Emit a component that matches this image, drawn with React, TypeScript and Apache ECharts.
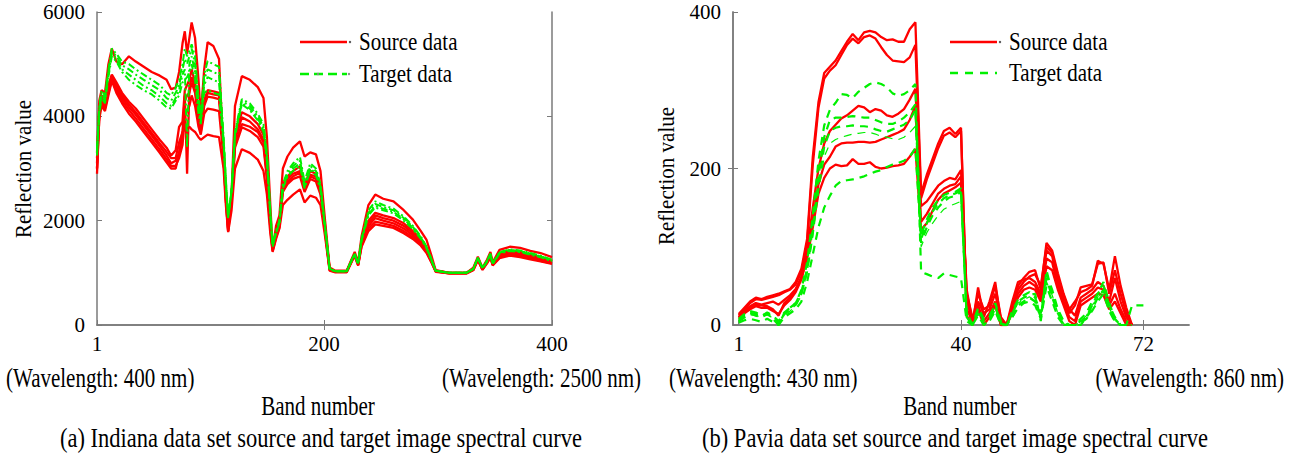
import React, { useEffect, useRef } from "react";
import * as echarts from "echarts";

// ---------- (a) Indiana data set ----------
const LEFT_BANDS = [1, 3, 5, 8, 11, 14, 18, 23, 29, 35, 42, 49, 56, 62, 66, 70, 73, 76, 78, 80, 82, 84, 87, 90, 92, 95, 98, 103, 108, 112, 114,
  116, 119, 122, 128, 135, 142, 147, 150, 153, 155, 158, 161, 164, 168, 173, 179, 183, 188, 193, 197, 201, 205, 210, 220, 225, 227, 230, 233, 239, 245, 252, 261, 270, 278, 285, 290, 294, 298, 310, 325, 331, 335, 339, 343, 346, 348, 354, 363, 372, 381, 390, 400];

const LEFT_SOURCE_1 = [3300, 4300, 4500, 4450, 5000, 5300, 5050, 5000, 5150, 5050, 4950, 4850, 4780, 4700, 4520, 4550, 4850, 5400, 5630, 5200, 5500, 5800, 5500, 4700, 4000, 4900, 5420, 5350, 5100, 3200, 2400,
  1800, 2500, 4200, 4770, 4700, 4560, 4350, 3600, 2300, 1450, 1900, 2100, 3000, 3230, 3400, 3520, 3230, 3310, 3270, 2950, 2000, 1100, 1040, 1040, 1300, 1400, 1200, 1700, 2300, 2500, 2420, 2370, 2200, 2020, 1800, 1630, 1350, 1050, 1000, 1000, 1100, 1310, 1100, 1250, 1400, 1200, 1440, 1500, 1480, 1420, 1380, 1300];
const LEFT_SOURCE_2 = [3000, 4100, 4400, 4300, 4600, 4800, 4650, 4450, 4280, 4150, 3950, 3750, 3550, 3400, 3250, 3350, 3800, 3900, 4500, 4600, 4700, 4900, 4650, 4100, 3800, 4300, 4500, 4480, 4450, 3400, 2600,
  2000, 2500, 3600, 4080, 4000, 3850, 3650, 3000, 2000, 1500, 1750, 2000, 2700, 2850, 2950, 3040, 2700, 2950, 2900, 2650, 1900, 1080, 1030, 1030, 1280, 1360, 1180, 1600, 2000, 2150, 2100, 2050, 1950, 1800, 1650, 1480, 1260, 1040, 1000, 1000, 1080, 1280, 1090, 1220, 1360, 1180, 1380, 1430, 1400, 1350, 1300, 1230];
const LEFT_SOURCE_3 = [2900, 4000, 4300, 4200, 4550, 4780, 4600, 4400, 4230, 4080, 3880, 3680, 3480, 3320, 3200, 3200, 3500, 3700, 4400, 2900, 4550, 4750, 4550, 4000, 3750, 4250, 4450, 4420, 4400, 3350, 2550,
  1950, 2450, 3550, 3980, 3900, 3750, 3550, 2900, 1950, 1480, 1720, 1950, 2650, 2800, 2900, 2950, 2650, 2880, 2850, 2600, 1850, 1070, 1030, 1030, 1270, 1350, 1170, 1580, 1950, 2100, 2050, 2000, 1900, 1760, 1620, 1450, 1250, 1040, 1000, 1000, 1070, 1270, 1080, 1210, 1340, 1170, 1360, 1410, 1380, 1330, 1280, 1220];
const LEFT_SOURCE_4 = [3100, 4150, 4350, 4250, 4500, 4750, 4550, 4350, 4180, 4030, 3830, 3630, 3430, 3250, 3100, 3150, 3300, 3600, 4300, 4400, 4450, 4650, 4450, 3900, 3700, 4200, 4380, 4360, 4330, 3300, 2500,
  1850, 2400, 3450, 3850, 3800, 3700, 3500, 2850, 1900, 1450, 1700, 1900, 2600, 2750, 2850, 2920, 2600, 2850, 2800, 2550, 1800, 1060, 1020, 1020, 1260, 1340, 1160, 1550, 1900, 2050, 2000, 1950, 1850, 1720, 1580, 1420, 1230, 1030, 990, 990, 1060, 1260, 1070, 1200, 1320, 1160, 1330, 1380, 1350, 1300, 1250, 1200];
const LEFT_SOURCE_5 = [3200, 4050, 4250, 4150, 4450, 4700, 4500, 4300, 4120, 3960, 3760, 3560, 3360, 3180, 3050, 3050, 3200, 3450, 4000, 4100, 4200, 4400, 4200, 3800, 3650, 4050, 4150, 4130, 4100, 3200, 2400,
  1800, 2350, 3400, 3790, 3720, 3600, 3420, 2800, 1850, 1420, 1680, 1880, 2550, 2700, 2800, 2850, 2550, 2800, 2750, 2500, 1780, 1050, 1020, 1020, 1250, 1330, 1150, 1520, 1850, 1980, 1950, 1900, 1800, 1680, 1550, 1400, 1220, 1030, 990, 990, 1060, 1250, 1060, 1190, 1300, 1150, 1300, 1350, 1320, 1280, 1230, 1180];
const LEFT_SOURCE_6 = [3000, 3950, 4200, 4100, 4400, 4680, 4450, 4250, 4050, 3900, 3700, 3500, 3300, 3120, 3000, 3000, 3300, 3700, 3750, 3780, 3800, 3750, 3700, 3600, 3550, 3600, 3650, 3620, 3600, 3000, 2300,
  1780, 2200, 3000, 3370, 3300, 3170, 2950, 2500, 1750, 1400, 1650, 1850, 2300, 2400, 2500, 2600, 2350, 2480, 2440, 2300, 1700, 1040, 1010, 1010, 1240, 1320, 1140, 1500, 1800, 1930, 1900, 1860, 1760, 1650, 1520, 1380, 1210, 1020, 990, 990, 1050, 1240, 1060, 1180, 1290, 1140, 1280, 1330, 1300, 1260, 1220, 1170];

const LEFT_TARGET_1 = [3400, 4200, 4500, 4400, 4900, 5300, 5200, 5050, 5000, 4900, 4800, 4700, 4600, 4450, 4400, 4550, 4700, 5000, 5300, 5150, 5250, 5380, 5150, 4360, 4050, 4800, 5060, 5000, 4950, 3600, 2800,
  2050, 2600, 3700, 4330, 4250, 4050, 3850, 3300, 2200, 1550, 1800, 2000, 2700, 2950, 3100, 3220, 2750, 3100, 3000, 2700, 1900, 1080, 1030, 1030, 1280, 1370, 1180, 1650, 2200, 2370, 2300, 2230, 2080, 1900, 1700, 1500, 1280, 1040, 1000, 1000, 1080, 1290, 1100, 1230, 1370, 1180, 1400, 1450, 1430, 1380, 1330, 1250];
const LEFT_TARGET_2 = [3350, 4150, 4450, 4350, 4850, 5250, 5150, 4980, 4900, 4800, 4700, 4600, 4500, 4350, 4300, 4450, 4600, 4900, 5100, 5000, 5150, 5300, 5000, 4250, 3950, 4700, 4900, 4850, 4800, 3550, 2750,
  2050, 2580, 3680, 4290, 4200, 4000, 3800, 3250, 2150, 1530, 1780, 1980, 2680, 2900, 3050, 3150, 2700, 3050, 2950, 2650, 1880, 1080, 1030, 1030, 1280, 1360, 1180, 1640, 2150, 2320, 2260, 2200, 2050, 1880, 1680, 1490, 1270, 1040, 1000, 1000, 1080, 1290, 1090, 1230, 1360, 1180, 1390, 1440, 1420, 1370, 1320, 1240];
const LEFT_TARGET_3 = [3300, 4100, 4400, 4300, 4800, 5200, 5100, 4900, 4800, 4700, 4580, 4500, 4380, 4250, 4200, 4350, 4500, 4800, 4900, 3400, 5000, 5150, 4850, 4150, 3900, 4600, 4750, 4700, 4650, 3500, 2700,
  2080, 2560, 3650, 4250, 4150, 3960, 3750, 3200, 2120, 1520, 1770, 1970, 2650, 2870, 3000, 3100, 2650, 3000, 2900, 2620, 1860, 1070, 1030, 1030, 1270, 1350, 1170, 1630, 2120, 2280, 2230, 2170, 2030, 1860, 1670, 1480, 1260, 1040, 1000, 1000, 1080, 1280, 1090, 1220, 1350, 1170, 1380, 1430, 1410, 1360, 1310, 1230];
const LEFT_TARGET_4 = [3250, 4050, 4350, 4250, 4750, 5150, 5050, 4850, 4700, 4600, 4500, 4420, 4300, 4170, 4150, 4300, 4400, 4650, 4700, 4750, 4850, 5000, 4700, 4050, 3850, 4450, 4500, 4450, 4420, 3450, 2650,
  2100, 2540, 3620, 4230, 4120, 3920, 3700, 3150, 2100, 1500, 1760, 1960, 2620, 2840, 2960, 3050, 2620, 2960, 2870, 2600, 1850, 1070, 1030, 1030, 1270, 1350, 1170, 1620, 2100, 2250, 2200, 2140, 2000, 1840, 1650, 1470, 1250, 1040, 1000, 1000, 1070, 1280, 1080, 1220, 1350, 1170, 1370, 1420, 1400, 1350, 1300, 1220];

// ---------- (b) Pavia data set ----------
const RIGHT_BANDS = [1, 2, 3, 4, 5, 6, 7, 8, 9, 10, 11, 12, 13, 14, 15, 16, 17, 18, 19, 20, 21, 22, 23, 24, 25, 26, 27, 28, 29, 30, 31, 32, 33, 34, 35, 36,
  37, 38, 39, 40, 41, 42, 43, 44, 45, 46, 47, 48, 49, 50, 51, 52, 53, 54, 55, 56, 57, 58, 59, 60, 61, 62, 63, 64, 65, 66, 67, 68, 69, 70, 71, 72];

const RIGHT_SOURCE_1 = [14, 22, 30, 35, 33, 36, 38, 40, 43, 46, 55, 72, 110, 215, 285, 322, 330, 338, 350, 362, 372, 364, 374, 376, 374, 368, 364, 365, 362, 362, 378, 387, 168, 192, 212, 232, 248, 252, 244, 252, 12, 0, 48, 10, 30, 55, 5, 0, 20, 50, 60, 68, 70, 45, 105, 95, 66, 40, 20, 30, 42, 45, 50, 82, 78, 45, 88, 50, 22, 0];
const RIGHT_SOURCE_2 = [12, 20, 28, 33, 32, 34, 36, 38, 42, 45, 52, 68, 105, 205, 278, 315, 325, 332, 345, 358, 366, 360, 368, 370, 366, 355, 345, 338, 337, 336, 342, 358, 162, 186, 206, 226, 242, 246, 240, 248, 20, 5, 40, 20, 25, 50, 10, 0, 25, 45, 55, 62, 65, 50, 100, 92, 62, 38, 15, 25, 48, 50, 52, 78, 80, 40, 70, 40, 15, 0];
const RIGHT_SOURCE_3 = [10, 16, 22, 26, 25, 24, 20, 12, 28, 35, 45, 62, 95, 150, 200, 232, 248, 256, 264, 268, 274, 280, 278, 272, 276, 274, 268, 266, 270, 276, 288, 302, 152, 158, 168, 178, 184, 188, 186, 198, 35, 0, 30, 15, 20, 40, 8, 0, 30, 55, 58, 60, 55, 40, 95, 88, 55, 35, 20, 12, 35, 40, 45, 55, 50, 30, 60, 30, 10, 0];
const RIGHT_SOURCE_4 = [8, 15, 20, 24, 22, 22, 18, 14, 25, 32, 42, 58, 88, 135, 180, 205, 215, 228, 232, 233, 233, 234, 234, 233, 234, 237, 240, 243, 246, 250, 262, 280, 132, 142, 155, 168, 174, 178, 180, 190, 45, 5, 25, 5, 15, 30, 0, 0, 20, 40, 50, 55, 50, 35, 85, 80, 50, 30, 10, 5, 30, 35, 40, 48, 45, 25, 40, 20, 5, 0];
const RIGHT_SOURCE_5 = [10, 18, 24, 28, 26, 28, 30, 26, 32, 38, 46, 60, 85, 125, 168, 188, 200, 205, 203, 204, 212, 206, 206, 208, 202, 200, 201, 203, 204, 206, 215, 225, 122, 130, 146, 160, 168, 172, 176, 182, 40, 10, 20, 0, 10, 25, 0, 0, 15, 35, 45, 48, 45, 30, 75, 70, 45, 25, 5, 0, 25, 30, 35, 40, 38, 20, 30, 15, 0, 0];

const RIGHT_TARGET_1 = [8, 14, 18, 16, 12, 15, 8, 0, 15, 22, 28, 45, 80, 140, 210, 255, 275, 284, 295, 294, 290, 298, 303, 308, 310, 308, 304, 296, 293, 295, 300, 308, 68, 65, 62, 60, 66, 64, 62, 60, 5, 0, 20, 5, 10, 28, 5, 0, 15, 30, 35, 38, 40, 5, 70, 40, 18, 2, 0, 0, 5, 10, 25, 40, 55, 28, 8, 0, 0, 25, 25, 25];
const RIGHT_TARGET_2 = [5, 10, 15, 12, 10, 14, 10, 2, 14, 20, 26, 40, 70, 125, 190, 240, 262, 265, 265, 266, 267, 266, 265, 265, 262, 259, 257, 257, 260, 265, 272, 282, 115, 135, 150, 160, 166, 169, 170, 175, 10, 0, 15, 0, 8, 20, 0, 0, 10, 25, 30, 35, 30, 10, 60, 35, 15, 0, 0, 0, 0, 10, 20, 35, 45, 20, 5, 0, 0, 0];
const RIGHT_TARGET_3 = [6, 12, 16, 14, 11, 16, 12, 5, 16, 22, 28, 42, 72, 120, 180, 228, 248, 252, 254, 254, 255, 254, 254, 253, 250, 248, 247, 250, 253, 256, 262, 275, 110, 130, 145, 155, 162, 166, 168, 172, 15, 0, 22, 8, 12, 25, 2, 0, 18, 32, 38, 42, 35, 15, 65, 45, 20, 5, 0, 0, 8, 15, 30, 40, 50, 25, 10, 0, 0, 0];
const RIGHT_TARGET_4 = [4, 9, 13, 12, 10, 13, 9, 3, 12, 18, 24, 38, 65, 112, 170, 215, 232, 237, 240, 242, 244, 245, 246, 246, 244, 241, 240, 238, 237, 240, 246, 254, 100, 118, 130, 140, 148, 152, 155, 158, 20, 0, 18, 5, 8, 22, 0, 0, 14, 28, 32, 36, 30, 12, 55, 38, 15, 2, 0, 0, 5, 12, 25, 35, 45, 22, 6, 0, 0, 0];
const RIGHT_TARGET_5 = [3, 6, 8, 6, 4, 8, 4, 0, 10, 15, 20, 30, 55, 90, 125, 150, 165, 178, 184, 185, 186, 188, 190, 193, 196, 198, 202, 205, 207, 210, 215, 226, 105, 125, 140, 150, 158, 163, 165, 170, 10, 0, 12, 0, 5, 18, 0, 0, 10, 22, 28, 30, 25, 8, 50, 30, 10, 0, 0, 0, 3, 8, 18, 30, 40, 18, 4, 0, 0, 0];

// ---------- ticks / texts ----------
const LEFT_X_TICKS = [1, 200, 400];
const LEFT_Y_TICKS = [0, 2000, 4000, 6000];
const RIGHT_X_TICKS = [1, 40, 72];
const RIGHT_Y_TICKS = [0, 200, 400];
const SERIES_NAMES = ["Source data", "Target data"];
const Y_NAME = "Reflection value";
const X_NAME = "Band number";
const LEFT_NOTES = ["(Wavelength: 400 nm)", "(Wavelength: 2500 nm)"];
const RIGHT_NOTES = ["(Wavelength: 430 nm)", "(Wavelength: 860 nm)"];
const CAPTIONS = [
  "(a) Indiana data set source and target image spectral curve",
  "(b) Pavia data set source and target image spectral curve",
];

const FONT = "'Liberation Serif', 'Times New Roman', serif";
const RED = "#ff0000";
const GREEN = "#00f000";
const AXIS_GRAY = "#7a7a7a";

const toPairs = (bands: number[], vals: number[]) =>
  vals.map((v, i) => [bands[i], v]).filter((p) => p[0] != null && p[1] != null);

export default function App() {
  const ref = useRef<HTMLDivElement>(null);

  useEffect(() => {
    document.body.style.margin = "0";
    const chart = echarts.init(ref.current!, null, { renderer: "svg" });

    const axisLine = { show: true, lineStyle: { color: AXIS_GRAY, width: 1.5 } };
    const tick = (vals: number[]) => ({
      show: true, inside: true, length: 5, customValues: vals,
      lineStyle: { color: AXIS_GRAY, width: 1 },
    });
    const label = (vals: number[], margin: number) => ({
      show: true, customValues: vals, fontSize: 21, fontFamily: FONT, color: "#000", margin,
      formatter: (v: number) => String(v),
    });

    const xAxis = [
      { gridIndex: 0, type: "value", position: "bottom", min: 1, max: 400, axisLine, axisTick: tick(LEFT_X_TICKS), axisLabel: label(LEFT_X_TICKS, 8), splitLine: { show: false } },
      { gridIndex: 0, type: "value", position: "top", min: 1, max: 400, axisLine, axisTick: tick([200]), axisLabel: { show: false }, splitLine: { show: false } },
      { gridIndex: 1, type: "value", position: "bottom", min: 0, max: 80, axisLine, axisTick: tick(RIGHT_X_TICKS), axisLabel: label(RIGHT_X_TICKS, 8), splitLine: { show: false } },
      { gridIndex: 1, type: "value", position: "top", min: 0, max: 80, axisLine, axisTick: tick([40, 72]), axisLabel: { show: false }, splitLine: { show: false } },
    ];
    const yAxis = [
      { gridIndex: 0, type: "value", position: "left", min: 0, max: 6000, axisLine, axisTick: tick(LEFT_Y_TICKS), axisLabel: label(LEFT_Y_TICKS, 12), splitLine: { show: false } },
      { gridIndex: 0, type: "value", position: "right", min: 0, max: 6000, axisLine, axisTick: tick([2000, 4000]), axisLabel: { show: false }, splitLine: { show: false } },
      { gridIndex: 1, type: "value", position: "left", min: 0, max: 400, axisLine, axisTick: tick(RIGHT_Y_TICKS), axisLabel: label(RIGHT_Y_TICKS, 12), splitLine: { show: false } },
      { gridIndex: 1, type: "value", position: "right", min: 0, max: 400, axisLine, axisTick: tick([200]), axisLabel: { show: false }, splitLine: { show: false } },
    ];

    const line = (name: string, data: number[][], xi: number, yi: number, color: string, width: number, dash: any) => ({
      type: "line", name, data, xAxisIndex: xi, yAxisIndex: yi,
      showSymbol: false, symbol: "none", clip: true, silent: true,
      lineStyle: { color, width, type: dash },
    });

    const leftSources = [LEFT_SOURCE_1, LEFT_SOURCE_2, LEFT_SOURCE_3, LEFT_SOURCE_4, LEFT_SOURCE_5, LEFT_SOURCE_6];
    const leftTargets = [LEFT_TARGET_1, LEFT_TARGET_2, LEFT_TARGET_3, LEFT_TARGET_4];
    const rightSources = [RIGHT_SOURCE_1, RIGHT_SOURCE_2, RIGHT_SOURCE_3, RIGHT_SOURCE_4, RIGHT_SOURCE_5];
    const rightTargets = [RIGHT_TARGET_1, RIGHT_TARGET_2, RIGHT_TARGET_3, RIGHT_TARGET_4, RIGHT_TARGET_5];

    const series: any[] = [
      ...leftSources.map((v) => line(SERIES_NAMES[0], toPairs(LEFT_BANDS, v), 0, 0, RED, 2.3, "solid")),
      ...leftTargets.map((v) => line(SERIES_NAMES[1], toPairs(LEFT_BANDS, v), 0, 0, GREEN, 2, [7, 3, 2, 3])),
      ...rightSources.map((v) => line(SERIES_NAMES[0], toPairs(RIGHT_BANDS, v), 2, 2, RED, 2.3, "solid")),
      ...rightTargets.map((v, i) => line(SERIES_NAMES[1], toPairs(RIGHT_BANDS, v), 2, 2, GREEN, i === 3 ? 1.2 : 2.2, [8, 6])),
    ];

    const txt = (text: string, x: number, y: number, size: number, align: string, sy = 1.2, rot = 0) => ({
      type: "text", x, y, rotation: rot, scaleY: sy, silent: true,
      style: { text, fontSize: size, fontFamily: FONT, fill: "#000", textAlign: align, textVerticalAlign: "middle" },
    });

    const legend = (x0: number, y1: number, y2: number, dash: number[], dots: number[]) => [
      { type: "line", shape: { x1: x0, y1, x2: x0 + 47, y2: y1 }, style: { stroke: RED, lineWidth: 2.5 } },
      { type: "circle", shape: { cx: x0 + 50, cy: y1, r: 1.2 }, style: { fill: "#555" } },
      txt(SERIES_NAMES[0], x0 + 59, y1, 21, "left", 1.15),
      { type: "line", shape: { x1: x0, y1: y2, x2: x0 + 47, y2 }, style: { stroke: GREEN, lineWidth: 2.5, lineDash: dash } },
      ...dots.map((d) => ({ type: "circle", shape: { cx: x0 + d, cy: y2, r: 1.2 }, style: { fill: "#888" } })),
      txt(SERIES_NAMES[1], x0 + 59, y2, 21, "left", 1.15),
    ];

    const graphic: any[] = [
      txt(Y_NAME, 23, 169, 21, "center", 1.1, Math.PI / 2),
      txt(Y_NAME, 666, 176, 21, "center", 1.1, Math.PI / 2),
      txt(LEFT_NOTES[0], 6, 378, 21, "left", 1.25),
      txt(LEFT_NOTES[1], 641, 378, 21, "right", 1.25),
      txt(X_NAME, 318, 406, 21, "center", 1.25),
      txt(CAPTIONS[0], 321, 438, 22.5, "center", 1.25),
      txt(RIGHT_NOTES[0], 669, 378, 21, "left", 1.25),
      txt(RIGHT_NOTES[1], 1284, 378, 21, "right", 1.25),
      txt(X_NAME, 960, 406, 21, "center", 1.25),
      txt(CAPTIONS[1], 955, 438, 22.5, "center", 1.25),
      ...legend(300, 42, 74, [9, 5], [18, 49]),
      ...legend(950, 42, 73, [8, 7], []),
    ];

    chart.setOption({
      animation: false,
      backgroundColor: "#fff",
      grid: [
        { left: 97, top: 12, width: 455, height: 313 },
        { left: 733, top: 12, width: 456, height: 313 },
      ],
      xAxis,
      yAxis,
      series,
      graphic,
    });

    return () => chart.dispose();
  }, []);

  return <div ref={ref} style={{ width: 1295, height: 457 }} />;
}
